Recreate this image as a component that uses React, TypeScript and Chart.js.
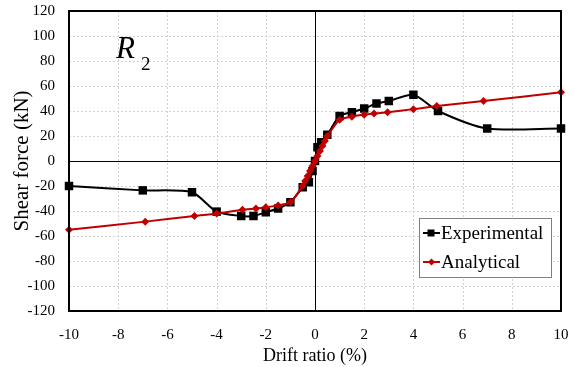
import React, { useEffect, useRef } from 'react';
import { Chart, registerables } from 'chart.js';

Chart.register(...registerables);

const FONT = "'Liberation Serif', 'Times New Roman', serif";

const expX = [-10, -7, -5, -4, -3, -2.5, -2, -1.5, -1, -0.5, -0.25, -0.1, 0, 0.1, 0.25, 0.5, 1, 1.5, 2, 2.5, 3, 4, 5, 7, 10];
const expY = [-20, -23.5, -25, -40.5, -44, -44, -41, -38, -33, -21, -17, -8, 0, 11, 15, 21, 36, 39, 42, 46, 48, 53, 40, 26, 26];

const anaX = [-10, -6.9, -4.9, -4, -2.95, -2.4, -2, -1.5, -1, -0.5, -0.4, -0.3, -0.2, -0.1, 0, 0.1, 0.2, 0.3, 0.4, 0.5, 1, 1.5, 2, 2.4, 2.95, 4, 4.95, 6.85, 10];
const anaY = [-55, -48.5, -44, -42, -39, -38, -37, -35.5, -33, -20, -16, -12, -8, -4, 0, 4, 8, 12, 16, 20, 33, 35.5, 37, 38, 39, 41.5, 44, 48, 55];

const seriesNames = ['Experimental', 'Analytical'];
const seriesColors = ['#000000', '#c00000'];

const xTitle = 'Drift ratio (%)';
const yTitle = 'Shear force (kN)';
const xRange = [-10, 10, 2];
const yRange = [-120, 120, 20];

const toPts = (xs: number[], ys: number[]) => xs.map((x, i) => ({ x, y: ys[i] }));

const decoPlugin = {
  id: 'deco',
  beforeDatasetsDraw(chart: any) {
    const { ctx, chartArea: a, scales } = chart;
    ctx.save();
    // dashed grid
    ctx.strokeStyle = '#d2d2d2';
    ctx.lineWidth = 1;
    ctx.setLineDash([2, 2]);
    ctx.beginPath();
    for (const t of scales.x.ticks) {
      const px = Math.round(scales.x.getPixelForValue(t.value)) + 0.5;
      ctx.moveTo(px, a.top);
      ctx.lineTo(px, a.bottom);
    }
    for (const t of scales.y.ticks) {
      const py = Math.round(scales.y.getPixelForValue(t.value)) + 0.5;
      ctx.moveTo(a.left, py);
      ctx.lineTo(a.right, py);
    }
    ctx.stroke();
    ctx.setLineDash([]);
    // zero lines
    const x0 = Math.round(scales.x.getPixelForValue(0)) + 0.5;
    const y0 = Math.round(scales.y.getPixelForValue(0)) + 0.5;
    ctx.strokeStyle = '#000';
    ctx.lineWidth = 1;
    ctx.beginPath();
    ctx.moveTo(x0, a.top);
    ctx.lineTo(x0, a.bottom);
    ctx.moveTo(a.left, y0);
    ctx.lineTo(a.right, y0);
    ctx.stroke();
    ctx.restore();
  },
  afterDraw(chart: any) {
    const { ctx, chartArea: a } = chart;
    ctx.save();
    // plot border
    ctx.strokeStyle = '#000';
    ctx.lineWidth = 2;
    ctx.strokeRect(a.left, a.top, a.right - a.left, a.bottom - a.top);

    // R2 label
    ctx.fillStyle = '#000';
    ctx.textBaseline = 'alphabetic';
    ctx.textAlign = 'left';
    ctx.font = `italic 31px ${FONT}`;
    ctx.fillText('R', a.left + 47, a.top + 47);
    ctx.font = `19px ${FONT}`;
    ctx.fillText('2', a.left + 72, a.top + 59);

    // legend
    const bx = 419.5, by = 218.5, bw = 132, bh = 59;
    ctx.fillStyle = '#fff';
    ctx.fillRect(bx, by, bw, bh);
    ctx.strokeStyle = '#808080';
    ctx.lineWidth = 1;
    ctx.strokeRect(bx, by, bw, bh);
    const rows = [233, 262];
    ctx.font = `19px ${FONT}`;
    ctx.textBaseline = 'middle';
    for (let i = 0; i < 2; i++) {
      const y = rows[i];
      ctx.strokeStyle = seriesColors[i];
      ctx.lineWidth = 2;
      ctx.beginPath();
      ctx.moveTo(423, y);
      ctx.lineTo(440, y);
      ctx.stroke();
      ctx.fillStyle = seriesColors[i];
      if (i === 0) {
        ctx.fillRect(427.5, y - 3.5, 7, 7);
      } else {
        ctx.beginPath();
        ctx.moveTo(431.5, y - 3.5);
        ctx.lineTo(435, y);
        ctx.lineTo(431.5, y + 3.5);
        ctx.lineTo(428, y);
        ctx.closePath();
        ctx.fill();
      }
      ctx.fillStyle = '#000';
      ctx.fillText(seriesNames[i], 441, y + 1);
    }
    ctx.restore();
  },
};

export default function App() {
  const ref = useRef<HTMLCanvasElement>(null);
  useEffect(() => {
    if (!ref.current) return;
    const chart = new Chart(ref.current, {
      type: 'scatter',
      data: {
        datasets: [
          {
            label: seriesNames[0],
            data: toPts(expX, expY),
            showLine: true,
            borderColor: seriesColors[0],
            backgroundColor: seriesColors[0],
            borderWidth: 2,
            tension: 0.25,
            pointStyle: 'rect',
            pointRadius: 6,
            pointBorderWidth: 0,
            clip: false as any,
            order: 2,
          },
          {
            label: seriesNames[1],
            data: toPts(anaX, anaY),
            showLine: true,
            borderColor: seriesColors[1],
            backgroundColor: seriesColors[1],
            borderWidth: 2,
            tension: 0.2,
            pointStyle: 'rectRot',
            pointRadius: 4,
            pointBorderWidth: 0,
            clip: false as any,
            order: 1,
          },
        ],
      },
      options: {
        animation: false,
        responsive: false,
        maintainAspectRatio: false,
        layout: { padding: { top: 11, right: 15, left: 0, bottom: 0 } },
        plugins: { legend: { display: false }, tooltip: { enabled: false } },
        scales: {
          x: {
            type: 'linear',
            min: xRange[0],
            max: xRange[1],
            ticks: { stepSize: xRange[2], color: '#000', font: { family: FONT, size: 15 }, padding: 15 },
            grid: { display: false, drawTicks: false },
            border: { display: false },
            title: { display: true, text: xTitle, color: '#000', font: { family: FONT, size: 18 }, padding: { top: 0, bottom: 0 } },
            afterFit: (s: any) => { s.height = 56; s.paddingLeft = 0; s.paddingRight = 0; },
          },
          y: {
            type: 'linear',
            min: yRange[0],
            max: yRange[1],
            ticks: { stepSize: yRange[2], color: '#000', font: { family: FONT, size: 15 }, padding: 14 },
            grid: { display: false, drawTicks: false },
            border: { display: false },
            title: { display: true, text: yTitle, color: '#000', font: { family: FONT, size: 21 }, padding: { top: 10, bottom: 0 } },
            afterFit: (s: any) => { s.width = 69; s.paddingTop = 0; s.paddingBottom = 0; },
          },
        },
      },
      plugins: [decoPlugin],
    });
    return () => chart.destroy();
  }, []);
  return (
    <div style={{ position: 'fixed', left: 0, top: 0, width: 576, height: 367, background: '#fff' }}>
      <canvas ref={ref} width={576} height={367} style={{ width: 576, height: 367 }} />
    </div>
  );
}
